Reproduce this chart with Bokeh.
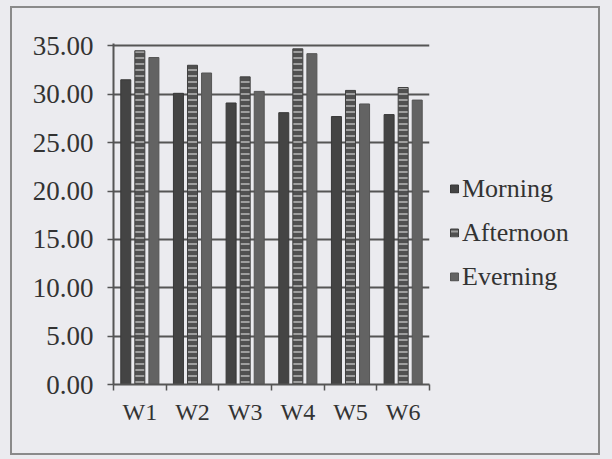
import numpy as np
from bokeh.plotting import figure
from bokeh.models import (ColumnDataSource, Range1d, FixedTicker, NumeralTickFormatter,
                          Legend, LegendItem)
from bokeh.transform import dodge
from bokeh.embed import file_html
from bokeh.resources import INLINE

categories = ["W1", "W2", "W3", "W4", "W5", "W6"]
morning = [31.5, 30.1, 29.1, 28.1, 27.7, 27.9]
afternoon = [34.5, 33.0, 31.8, 34.7, 30.4, 30.7]
evening = [33.8, 32.2, 30.3, 34.2, 29.0, 29.4]
series_names = ["Morning", "Afternoon", "Everning"]
y_ticks = [0, 5, 10, 15, 20, 25, 30, 35]

BG = "#ebebef"
FONT = "Liberation Serif"

centers = np.arange(len(categories)) + 0.5
src = ColumnDataSource(dict(x=centers, m=morning, a=afternoon, e=evening))

p = figure(frame_width=316, frame_height=341, output_backend="svg", toolbar_location=None,
           x_range=Range1d(0, len(categories)), y_range=Range1d(0, 35.25),
           min_border_left=113, min_border_right=0, min_border_top=43, min_border_bottom=70)
p.background_fill_color = BG
p.border_fill_color = BG
p.outline_line_color = None

off = 0.267
w = 0.19
r1 = p.vbar(x=dodge("x", -off), top="m", width=w, source=src, fill_color="#444444", line_color="#383838")
r2 = p.vbar(x="x", top="a", width=w, source=src, fill_color="#505050", line_color="#404040",
            hatch_pattern="-", hatch_color="#b8b8b8", hatch_scale=6, hatch_weight=1.5)
r3 = p.vbar(x=dodge("x", off), top="e", width=w, source=src, fill_color="#636363", line_color="#555555")

# x axis: labels at group centers, ticks at group boundaries
p.xaxis.ticker = FixedTicker(ticks=list(centers), minor_ticks=list(range(len(categories) + 1)))
p.xaxis.major_label_overrides = {float(c): n for c, n in zip(centers, categories)}
p.xaxis.major_tick_line_color = None
p.xaxis.minor_tick_in = 0
p.xaxis.minor_tick_out = 6
p.xaxis.minor_tick_line_color = "#555555"
p.xaxis.minor_tick_line_width = 1.5
p.xaxis.axis_line_color = "#555555"
p.xaxis.axis_line_width = 2
p.xaxis.major_label_text_font = FONT
p.xaxis.major_label_text_font_size = "24px"
p.xaxis.major_label_text_color = "#333333"
p.xaxis.major_label_standoff = 8

p.yaxis.ticker = FixedTicker(ticks=y_ticks)
p.yaxis.formatter = NumeralTickFormatter(format="0.00")
p.yaxis.minor_tick_line_color = None
p.yaxis.major_tick_in = 0
p.yaxis.major_tick_out = 6
p.yaxis.major_tick_line_color = "#555555"
p.yaxis.major_tick_line_width = 1.5
p.yaxis.axis_line_color = "#555555"
p.yaxis.axis_line_width = 2
p.yaxis.major_label_text_font = FONT
p.yaxis.major_label_text_font_size = "27px"
p.yaxis.major_label_text_color = "#333333"
p.yaxis.major_label_standoff = 14

p.xgrid.grid_line_color = None
p.ygrid.ticker = FixedTicker(ticks=y_ticks)
p.ygrid.grid_line_color = "#555555"
p.ygrid.grid_line_width = 2

legend = Legend(items=[LegendItem(label=series_names[0], renderers=[r1]),
                       LegendItem(label=series_names[1], renderers=[r2]),
                       LegendItem(label=series_names[2], renderers=[r3])],
                location="center_left", orientation="vertical")
legend.background_fill_alpha = 0
legend.border_line_color = None
legend.label_text_font = FONT
legend.label_text_font_size = "26px"
legend.label_text_color = "#333333"
legend.glyph_width = 10
legend.glyph_height = 10
legend.label_standoff = 3
legend.spacing = 14
legend.padding = 0
legend.margin = 20
legend.title = " "
legend.title_text_font_size = "26px"
legend.title_standoff = 6
p.add_layout(legend, "right")

html = file_html(p, INLINE)
css = ("<style>body{background:%s;}"
       "body::after{content:'';position:fixed;left:10px;top:6px;width:590px;height:449px;"
       "box-sizing:border-box;border:2px solid #8a8a8a;pointer-events:none;}</style>") % BG
html = html.replace("</head>", css + "</head>", 1)
open("out.html", "w").write(html)
